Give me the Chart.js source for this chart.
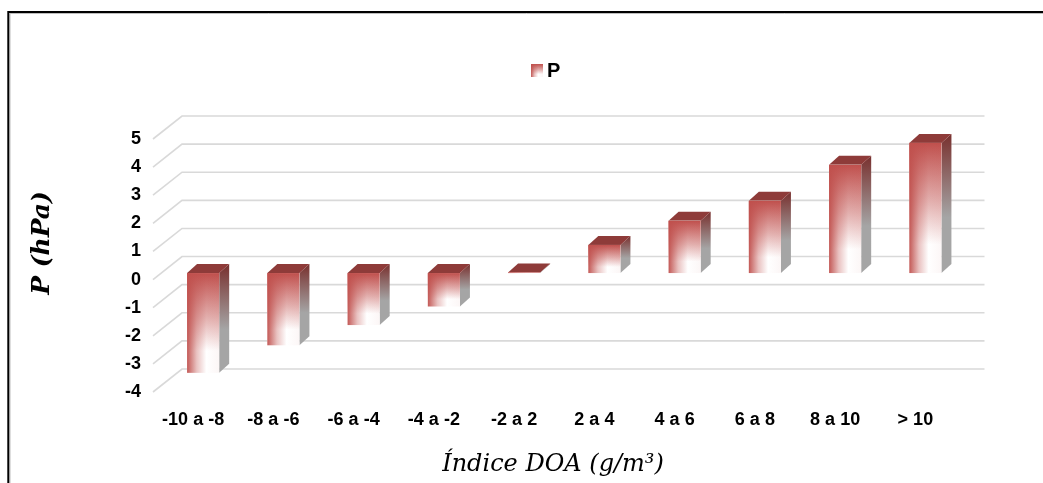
<!DOCTYPE html>
<html>
<head>
<meta charset="utf-8">
<title>P por índice DOA</title>
<script src="https://cdn.jsdelivr.net/npm/chart.js@4.4.1/dist/chart.umd.min.js"></script>
<style>
  html, body { margin: 0; padding: 0; background: #ffffff; }
  #wrap { position: relative; width: 1043px; height: 483px; }
  canvas { display: block; }
</style>
</head>
<body>
<div id="wrap"><canvas id="chart" width="1043" height="483"></canvas></div>
<script>
// Classes of the DOA index and mean P anomaly per class
const categories = ['-10 a -8', '-8 a -6', '-6 a -4', '-4 a -2', '-2 a 2', '2 a 4', '4 a 6', '6 a 8', '8 a 10', '> 10'];
const pValues = [-3.55, -2.57, -1.85, -1.19, 0.02, 1.0, 1.86, 2.57, 3.85, 4.63];
const yTicks = [5, 4, 3, 2, 1, 0, -1, -2, -3, -4];
const seriesName = 'P';
const yTitle = 'P (hPa)';
const xTitle = 'Índice DOA (g/m³)';

// Oblique projection used for the 3-D look
const WALL = { dx: 29, dy: -23 };      // front plane -> back wall
const BAR_SHIFT = { dx: 10, dy: -6.5 }; // front plane -> bar front face
const BAR_DEPTH = { dx: 10, dy: -9 };   // bar front face -> bar back

const RED = [192, 80, 77];
const rgba = (c, a) => `rgba(${c[0]},${c[1]},${c[2]},${a})`;

function paintFront(ctx, l, t, w, h) {
  ctx.fillStyle = '#ffffff';
  ctx.fillRect(l, t, w, h);
  let g = ctx.createLinearGradient(0, t, 0, t + h);
  g.addColorStop(0, rgba(RED, 1));
  g.addColorStop(0.45, rgba(RED, 0.45));
  g.addColorStop(0.78, rgba(RED, 0));
  g.addColorStop(1, rgba(RED, 0));
  ctx.fillStyle = g;
  ctx.fillRect(l, t, w, h);
  g = ctx.createLinearGradient(l, 0, l + w, 0);
  g.addColorStop(0, rgba(RED, 0.95));
  g.addColorStop(0.3, rgba(RED, 0.35));
  g.addColorStop(0.6, rgba(RED, 0));
  g.addColorStop(1, rgba(RED, 0.05));
  ctx.fillStyle = g;
  ctx.fillRect(l, t, w, h);
}

const framePlugin = {
  id: 'frame',
  beforeDraw(chart) {
    const ctx = chart.ctx;
    ctx.save();
    ctx.fillStyle = '#ffffff';
    ctx.fillRect(0, 0, chart.width, chart.height);
    ctx.strokeStyle = '#bdbdbd';
    ctx.lineWidth = 1;
    ctx.beginPath();
    ctx.moveTo(10, chart.height); ctx.lineTo(10, 13.5); ctx.lineTo(chart.width, 13.5);
    ctx.stroke();
    ctx.strokeStyle = '#000000';
    ctx.lineWidth = 2;
    ctx.beginPath();
    ctx.moveTo(8.3, chart.height); ctx.lineTo(8.3, 12); ctx.lineTo(chart.width, 12);
    ctx.stroke();
    ctx.restore();
  }
};

const wallPlugin = {
  id: 'wall',
  beforeDatasetsDraw(chart) {
    const ctx = chart.ctx, ys = chart.scales.y, a = chart.chartArea;
    ctx.save();
    ctx.strokeStyle = '#d9d9d9';
    ctx.lineWidth = 1.6;
    yTicks.forEach(v => {
      const py = ys.getPixelForValue(v);
      ctx.beginPath();
      ctx.moveTo(a.left, py);
      ctx.lineTo(a.left + WALL.dx, py + WALL.dy);
      ctx.lineTo(a.right + WALL.dx, py + WALL.dy);
      ctx.stroke();
    });
    ctx.restore();
  }
};

const bar3dPlugin = {
  id: 'bar3d',
  afterDatasetsDraw(chart) {
    const ctx = chart.ctx;
    const meta = chart.getDatasetMeta(0);
    ctx.save();
    meta.data.forEach(el => {
      const p = el.getProps(['x', 'y', 'base', 'width'], true);
      const l = p.x - p.width / 2 + BAR_SHIFT.dx;
      const r = p.x + p.width / 2 + BAR_SHIFT.dx;
      const t = Math.min(p.y, p.base) + BAR_SHIFT.dy;
      const b = Math.max(p.y, p.base) + BAR_SHIFT.dy;
      const h = Math.max(b - t, 0.6);
      const dx = BAR_DEPTH.dx, dy = BAR_DEPTH.dy;

      // side face
      const sg = ctx.createLinearGradient(0, t + dy, 0, t + h);
      sg.addColorStop(0, 'rgb(120,48,46)');
      sg.addColorStop(0.6, 'rgb(165,165,165)');
      sg.addColorStop(1, 'rgb(165,165,165)');
      ctx.fillStyle = sg;
      ctx.beginPath();
      ctx.moveTo(r, t); ctx.lineTo(r + dx, t + dy); ctx.lineTo(r + dx, t + h + dy); ctx.lineTo(r, t + h);
      ctx.closePath(); ctx.fill();

      // top face
      ctx.fillStyle = 'rgb(142,59,57)';
      ctx.beginPath();
      ctx.moveTo(l, t); ctx.lineTo(l + dx, t + dy); ctx.lineTo(r + dx, t + dy); ctx.lineTo(r, t);
      ctx.closePath(); ctx.fill();

      // front face
      paintFront(ctx, l, t, r - l, h);
    });
    ctx.restore();
  }
};

// legend entry and axis titles
const textPlugin = {
  id: 'chartText',
  afterDraw(chart) {
    const ctx = chart.ctx;
    ctx.save();
    // legend
    paintFront(ctx, 531, 64, 12, 13);
    ctx.fillStyle = '#000000';
    ctx.textAlign = 'left';
    ctx.textBaseline = 'middle';
    ctx.font = 'bold 20px "Liberation Sans", Arial, sans-serif';
    ctx.fillText(chart.data.datasets[0].label, 547, 71);
    // axis titles
    ctx.textAlign = 'center';
    ctx.font = 'italic 24px "DejaVu Serif", "Liberation Serif", serif';
    ctx.fillText(xTitle, 553, 465);
    ctx.translate(42, 243);
    ctx.rotate(-Math.PI / 2);
    ctx.font = 'italic bold 25px "DejaVu Serif", "Liberation Serif", serif';
    ctx.fillText(yTitle, 0, 0);
    ctx.restore();
  }
};

const tickFont = { family: '"Liberation Sans", Arial, sans-serif', size: 18, weight: 'bold' };

new Chart(document.getElementById('chart'), {
  type: 'bar',
  data: {
    labels: categories,
    datasets: [{
      label: seriesName,
      data: pValues,
      backgroundColor: 'rgba(0,0,0,0)',
      borderWidth: 0,
      barPercentage: 0.4,
      categoryPercentage: 1.0
    }]
  },
  options: {
    responsive: false,
    animation: false,
    devicePixelRatio: 1,
    events: [],
    layout: { padding: { left: 0, right: 87.5, top: 139, bottom: 0 } },
    plugins: {
      legend: { display: false },
      tooltip: { enabled: false }
    },
    scales: {
      x: {
        grid: { display: false },
        border: { display: false },
        ticks: { color: '#000000', font: tickFont, padding: 9, maxRotation: 0, autoSkip: false },
        afterFit(scale) { scale.height = 91; }
      },
      y: {
        min: -4,
        max: 5,
        grid: { display: false, drawTicks: false },
        border: { display: false },
        afterBuildTicks(scale) { scale.ticks = yTicks.map(v => ({ value: v })); },
        ticks: { color: '#000000', font: tickFont, padding: 12 },
        afterFit(scale) { scale.width = 153; }
      }
    }
  },
  plugins: [framePlugin, wallPlugin, bar3dPlugin, textPlugin]
});
</script>
</body>
</html>
